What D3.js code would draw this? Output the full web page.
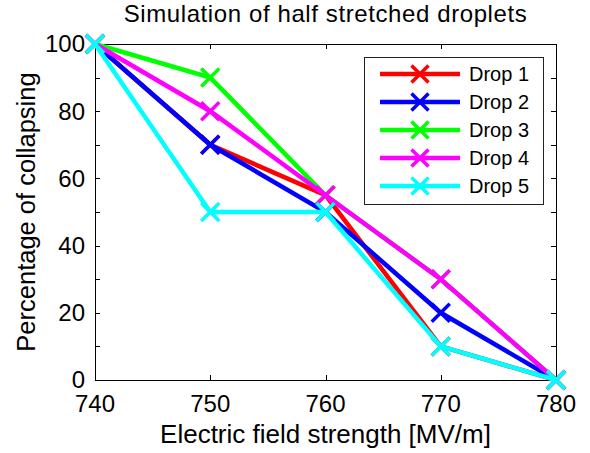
<!DOCTYPE html>
<html>
<head>
<meta charset="utf-8">
<script src="https://cdn.jsdelivr.net/npm/d3@7"></script>
<style>
  html, body { margin: 0; padding: 0; background: #fff; }
  svg { display: block; font-family: "Liberation Sans", Arial, sans-serif; }
</style>
</head>
<body>
<svg id="chart" width="590" height="453"></svg>
<script>
// Field strengths (MV/m) at which each droplet was simulated
const fieldStrength = [740, 750, 760, 770, 780];

// Percentage of collapsing for each droplet
const seriesNames = ["Drop 1", "Drop 2", "Drop 3", "Drop 4", "Drop 5"];
const drop1 = [100, 70, 55, 10, 0];
const drop2 = [100, 70, 50, 20, 0];
const drop3 = [100, 90, 55, 30, 0];
const drop4 = [100, 80, 55, 30, 0];
const drop5 = [100, 50, 50, 10, 0];
const seriesColors = ["#ff0000", "#0000ff", "#00ff00", "#ff00ff", "#00ffff"];

const xTickValues = [740, 750, 760, 770, 780];
const yTickValues = [0, 10, 20, 30, 40, 50, 60, 70, 80, 90, 100];
const yTickLabels = [0, 20, 40, 60, 80, 100];

const series = [drop1, drop2, drop3, drop4, drop5].map((vals, i) => ({
  name: seriesNames[i],
  color: seriesColors[i],
  points: vals.map((v, j) => ({ x: fieldStrength[j], y: v }))
}));

const svg = d3.select("#chart");
const plotL = 95, plotR = 556, plotT = 44, plotB = 380;

const x = d3.scaleLinear().domain([740, 780]).range([plotL, plotR]);
const y = d3.scaleLinear().domain([0, 100]).range([plotB, plotT]);

// Axes box
svg.append("rect")
  .attr("x", plotL + 0.5).attr("y", plotT + 0.5)
  .attr("width", plotR - plotL).attr("height", plotB - plotT)
  .attr("fill", "#fff").attr("stroke", "#000").attr("stroke-width", 1);

// Inward ticks on all four sides
const tickLen = 5;
const tickG = svg.append("g").attr("stroke", "#000").attr("stroke-width", 1);
xTickValues.forEach(v => {
  const px = Math.round(x(v)) + 0.5;
  tickG.append("line").attr("x1", px).attr("x2", px).attr("y1", plotB).attr("y2", plotB - tickLen);
  tickG.append("line").attr("x1", px).attr("x2", px).attr("y1", plotT).attr("y2", plotT + tickLen);
});
yTickValues.forEach(v => {
  const py = Math.round(y(v)) + 0.5;
  tickG.append("line").attr("x1", plotL).attr("x2", plotL + tickLen).attr("y1", py).attr("y2", py);
  tickG.append("line").attr("x1", plotR).attr("x2", plotR - tickLen).attr("y1", py).attr("y2", py);
});

// Tick labels
svg.append("g").selectAll("text").data(xTickValues).join("text")
  .attr("x", d => x(d)).attr("y", 412)
  .attr("text-anchor", "middle").attr("font-size", 24).attr("fill", "#000")
  .text(d => d);
svg.append("g").selectAll("text").data(yTickLabels).join("text")
  .attr("x", 85).attr("y", d => y(d)).attr("dy", "0.35em")
  .attr("text-anchor", "end").attr("font-size", 24).attr("fill", "#000")
  .text(d => d);

// Title and axis labels
svg.append("text").attr("x", (plotL + plotR) / 2).attr("y", 22)
  .attr("text-anchor", "middle").attr("font-size", 24).attr("letter-spacing", 0.6)
  .text("Simulation of half stretched droplets");
svg.append("text").attr("x", (plotL + plotR) / 2).attr("y", 443)
  .attr("text-anchor", "middle").attr("font-size", 26).text("Electric field strength [MV/m]");
svg.append("text")
  .attr("transform", `translate(35,${(plotT + plotB) / 2}) rotate(-90)`)
  .attr("text-anchor", "middle").attr("font-size", 25.5).text("Percentage of collapsing");

// Series lines and cross markers
const line = d3.line().x(d => x(d.x)).y(d => y(d.y));
const cross = (g, cx, cy, s, color) => {
  g.append("path")
    .attr("d", `M${cx - s},${cy - s}L${cx + s},${cy + s}M${cx - s},${cy + s}L${cx + s},${cy - s}`)
    .attr("stroke", color).attr("stroke-width", 3.5).attr("fill", "none");
};

series.forEach(s => {
  const g = svg.append("g");
  g.append("path").datum(s.points).attr("d", line)
    .attr("fill", "none").attr("stroke", s.color)
    .attr("stroke-width", 4.5).attr("stroke-linejoin", "miter");
  s.points.forEach(p => cross(g, x(p.x), y(p.y), 9, s.color));
});

// Legend
const lg = svg.append("g");
lg.append("rect").attr("x", 364.5).attr("y", 57.5).attr("width", 179).attr("height", 147)
  .attr("fill", "#fff").attr("stroke", "#222").attr("stroke-width", 1);
series.forEach((s, i) => {
  const ly = 74 + i * 28;
  lg.append("line").attr("x1", 380).attr("x2", 460).attr("y1", ly).attr("y2", ly)
    .attr("stroke", s.color).attr("stroke-width", 4.5);
  cross(lg, 420, ly, 8.5, s.color);
  lg.append("text").attr("x", 469).attr("y", ly).attr("dy", "0.35em")
    .attr("font-size", 20).text(s.name);
});
</script>
</body>
</html>
